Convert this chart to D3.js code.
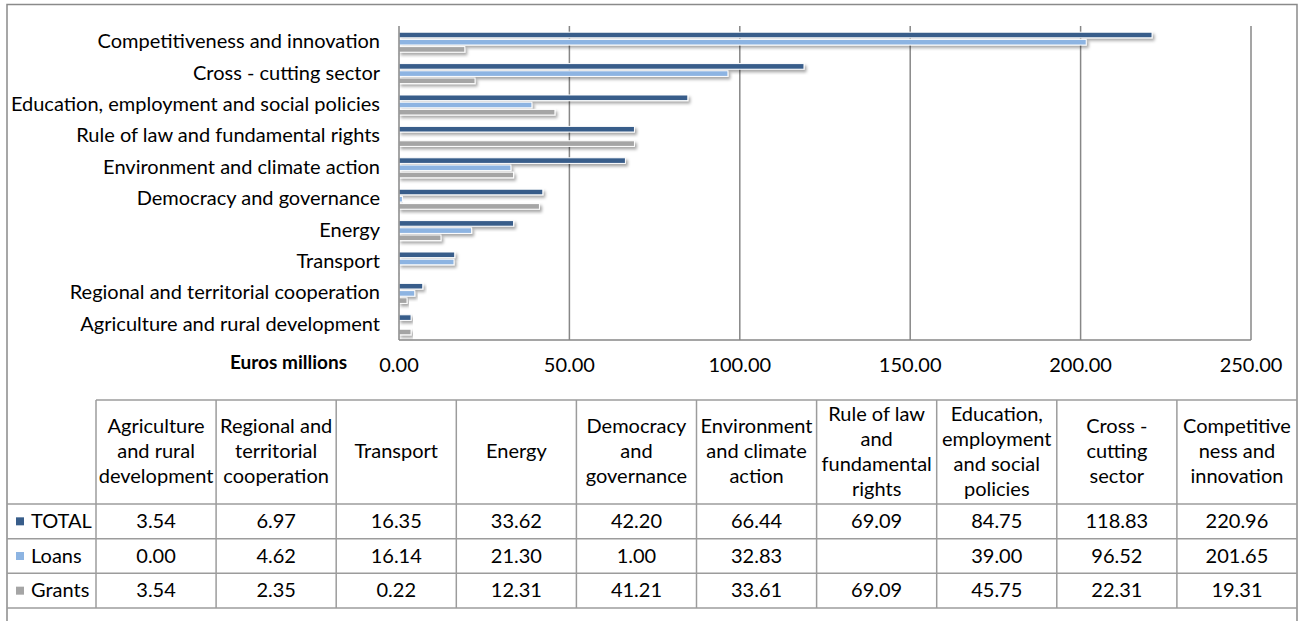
<!DOCTYPE html>
<html>
<head>
<meta charset="utf-8">
<script src="https://cdn.jsdelivr.net/npm/d3@7"></script>
<style>
  body { margin: 0; background: #fff; }
  text { font-family: Lato, "Open Sans", sans-serif; fill: #000; }
</style>
</head>
<body>
<svg id="chart" width="1303" height="621"></svg>
<script>
// categories in table order (bottom to top on the bar chart)
const categories = [
  "Agriculture and rural development",
  "Regional and territorial cooperation",
  "Transport",
  "Energy",
  "Democracy and governance",
  "Environment and climate action",
  "Rule of law and fundamental rights",
  "Education, employment and social policies",
  "Cross - cutting sector",
  "Competitiveness and innovation"
];
const headerLines = [
  ["Agriculture", "and rural", "development"],
  ["Regional and", "territorial", "cooperation"],
  ["Transport"],
  ["Energy"],
  ["Democracy", "and", "governance"],
  ["Environment", "and climate", "action"],
  ["Rule of law", "and", "fundamental", "rights"],
  ["Education,", "employment", "and social", "policies"],
  ["Cross -", "cutting", "sector"],
  ["Competitive", "ness and", "innovation"]
];
const series = ["TOTAL", "Loans", "Grants"];
const totalValues = [3.54, 6.97, 16.35, 33.62, 42.20, 66.44, 69.09, 84.75, 118.83, 220.96];
const loanValues = [0.00, 4.62, 16.14, 21.30, 1.00, 32.83, null, 39.00, 96.52, 201.65];
const grantValues = [3.54, 2.35, 0.22, 12.31, 41.21, 33.61, 69.09, 45.75, 22.31, 19.31];
const xTicks = [0, 50, 100, 150, 200, 250];
const seriesColors = ["#385D8A", "#8DB4E2", "#A5A5A5"];

const valuesBySeries = [totalValues, loanValues, grantValues];
const svg = d3.select("#chart");
const fontSize = "20px";

// soft shadow like the Excel bars
const defs = svg.append("defs");
defs.append("filter")
  .attr("id", "shadow")
  .attr("x", "-5%").attr("y", "-50%")
  .attr("width", "120%").attr("height", "250%")
  .append("feDropShadow")
  .attr("dx", 2).attr("dy", 2.5)
  .attr("stdDeviation", 1.6)
  .attr("flood-color", "#000")
  .attr("flood-opacity", 0.35);

// outer frame
svg.append("rect")
  .attr("x", 7).attr("y", 4.5)
  .attr("width", 1290).attr("height", 640)
  .attr("fill", "none")
  .attr("stroke", "#8a8a8a")
  .attr("stroke-width", 1.5);

var x = d3.scaleLinear().domain([0, 250]).range([399, 1251]);
var y = d3.scaleBand().domain(categories.slice().reverse()).range([26, 340]);
var inner = d3.scaleBand().domain(series).range([5.4, 27]).paddingInner(0.22).paddingOuter(0.11);

// gridlines
svg.append("g")
  .selectAll("line")
  .data(xTicks.slice(1))
  .enter()
  .append("line")
  .attr("x1", d => x(d)).attr("x2", d => x(d))
  .attr("y1", 26).attr("y2", 340)
  .attr("stroke", "#878787")
  .attr("stroke-width", 1.5);

// bars
const barData = [];
categories.forEach(function (c, i) {
  series.forEach(function (s, j) {
    const v = valuesBySeries[j][i];
    if (v !== null) barData.push({ cat: c, s: s, v: v, color: seriesColors[j] });
  });
});

svg.append("g")
  .selectAll("rect")
  .data(barData)
  .enter()
  .append("rect")
  .attr("x", x(0))
  .attr("y", d => y(d.cat) + inner(d.s))
  .attr("width", d => x(d.v) - x(0))
  .attr("height", inner.bandwidth())
  .attr("fill", d => d.color)
  .attr("stroke", "#fff")
  .attr("stroke-width", 1)
  .attr("filter", "url(#shadow)");

// axis lines
svg.append("line")
  .attr("x1", x(0)).attr("x2", x(0))
  .attr("y1", 26).attr("y2", 340)
  .attr("stroke", "#878787").attr("stroke-width", 1.5);
svg.append("line")
  .attr("x1", x(0)).attr("x2", x(250))
  .attr("y1", 340).attr("y2", 340)
  .attr("stroke", "#878787").attr("stroke-width", 1.5);

// category labels
svg.append("g")
  .selectAll("text")
  .data(categories)
  .enter()
  .append("text")
  .attr("x", 380)
  .attr("y", d => y(d) + y.bandwidth() / 2 + 6.5)
  .attr("text-anchor", "end")
  .style("font-size", fontSize)
  .text(d => d);

// x tick labels
svg.append("g")
  .selectAll("text")
  .data(xTicks)
  .enter()
  .append("text")
  .attr("x", d => x(d))
  .attr("y", 372)
  .attr("text-anchor", "middle")
  .style("font-size", fontSize)
  .text(d => d3.format(".2f")(d));

svg.append("text")
  .attr("x", 347)
  .attr("y", 369)
  .attr("text-anchor", "end")
  .style("font-size", "19px")
  .style("font-weight", "bold")
  .text("Euros millions");

// data table
var col = d3.scaleBand().domain(categories).range([96, 1297]);
var row = d3.scaleBand().domain(series).range([504, 608]);
const headerTop = 400;
const gridColor = "#9c9c9c";
const table = svg.append("g");

table.append("line")
  .attr("x1", 96).attr("x2", 1297)
  .attr("y1", headerTop).attr("y2", headerTop)
  .attr("stroke", gridColor).attr("stroke-width", 1.5);

table.selectAll("hline")
  .data([504, 504 + row.bandwidth(), 504 + 2 * row.bandwidth(), 608])
  .enter()
  .append("line")
  .attr("x1", 7).attr("x2", 1297)
  .attr("y1", d => d).attr("y2", d => d)
  .attr("stroke", gridColor).attr("stroke-width", 1.5);

table.selectAll("vline")
  .data(categories)
  .enter()
  .append("line")
  .attr("x1", d => col(d)).attr("x2", d => col(d))
  .attr("y1", headerTop).attr("y2", 608)
  .attr("stroke", gridColor).attr("stroke-width", 1.5);

// header cells
const headerMid = (headerTop + 504) / 2 + 6;
categories.forEach(function (c, i) {
  const lines = headerLines[i];
  table.append("g")
    .selectAll("text")
    .data(lines)
    .enter()
    .append("text")
    .attr("x", col(c) + col.bandwidth() / 2)
    .attr("y", (d, k) => headerMid + (k - (lines.length - 1) / 2) * 25)
    .attr("text-anchor", "middle")
    .style("font-size", fontSize)
    .text(d => d);
});

// series label cells with legend keys
series.forEach(function (s, j) {
  const cy = row(s) + row.bandwidth() / 2;
  table.append("rect")
    .attr("x", 16).attr("y", cy - 4)
    .attr("width", 8).attr("height", 8)
    .attr("fill", seriesColors[j]);
  table.append("text")
    .attr("x", 31).attr("y", cy + 6.5)
    .style("font-size", fontSize)
    .text(s);
  table.append("g")
    .selectAll("text")
    .data(categories)
    .enter()
    .append("text")
    .attr("x", d => col(d) + col.bandwidth() / 2)
    .attr("y", cy + 6.5)
    .attr("text-anchor", "middle")
    .style("font-size", fontSize)
    .text((d, i) => valuesBySeries[j][i] === null ? "" : d3.format(".2f")(valuesBySeries[j][i]));
});
</script>
</body>
</html>
